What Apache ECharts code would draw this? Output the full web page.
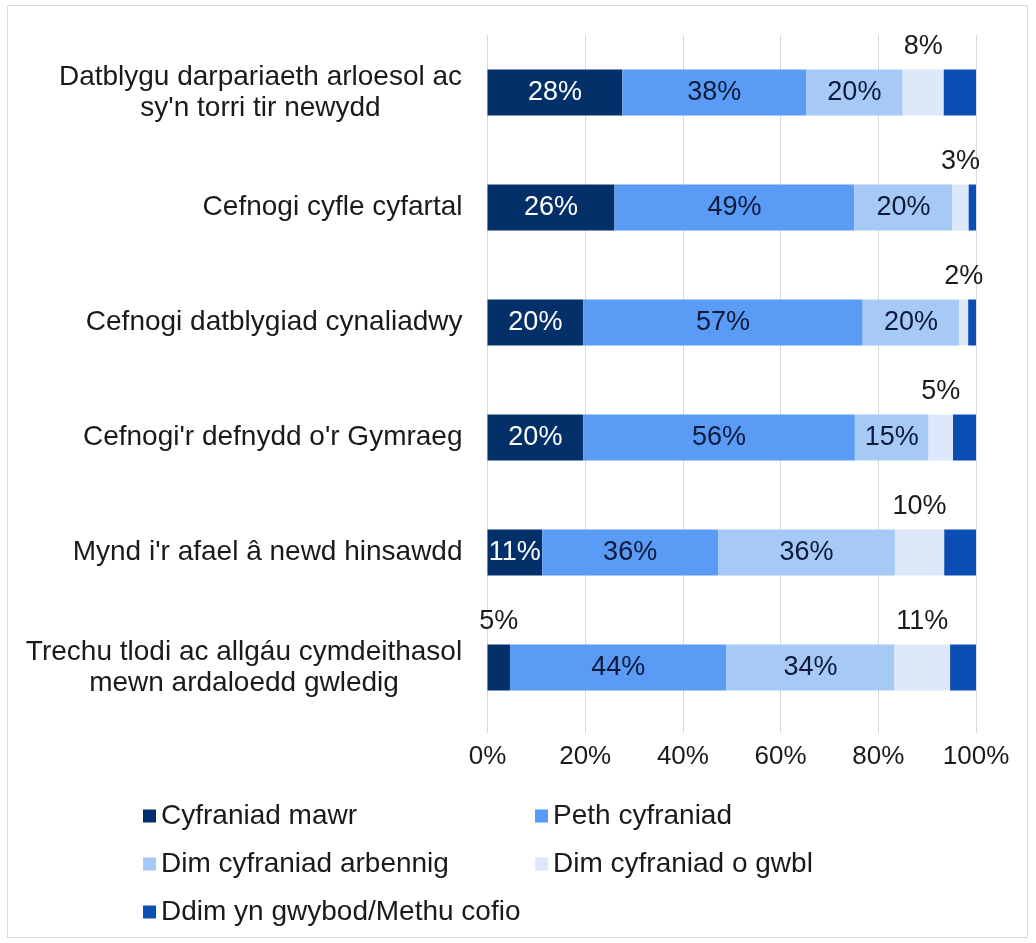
<!DOCTYPE html>
<html><head><meta charset="utf-8">
<script src="https://cdn.jsdelivr.net/npm/echarts@6/dist/echarts.min.js"></script>
<style>html,body{margin:0;padding:0;background:#fff}#c{width:1036px;height:943px}</style>
</head><body><div id="c"></div>
<script>
const categories = [
  "Datblygu darpariaeth arloesol ac\nsy'n torri tir newydd",
  "Cefnogi cyfle cyfartal",
  "Cefnogi datblygiad cynaliadwy",
  "Cefnogi'r defnydd o'r Gymraeg",
  "Mynd i'r afael â newd hinsawdd",
  "Trechu tlodi ac allgáu cymdeithasol\nmewn ardaloedd gwledig"
];
const seriesNames = ["Cyfraniad mawr", "Peth cyfraniad", "Dim cyfraniad arbennig", "Dim cyfraniad o gwbl", "Ddim yn gwybod/Methu cofio"];
const cyfraniadMawr = [27.6, 26.0, 19.6, 19.6, 11.2, 4.6];
const pethCyfraniad = [37.6, 49.1, 57.2, 55.6, 36.0, 44.3];
const dimArbennig   = [19.8, 20.1, 19.8, 15.1, 36.2, 34.4];
const dimOGwbl      = [8.4, 3.3, 1.8, 5.0, 10.1, 11.4];
const ddimGwybod    = [6.6, 1.5, 1.6, 4.7, 6.5, 5.3];
const xTickValues = [0, 20, 40, 60, 80, 100];

const FONT = '"Liberation Sans", Arial, sans-serif';
const FS_CAT = 28, FS_LBL = 27, FS_AX = 26, FS_LEG = 28;
const colors = ['#04306a', '#5a9bf6', '#a6c9f6', '#dde9fa', '#0a4db3'];

// measure widths for centering multi-line category labels
const cv = document.createElement('canvas').getContext('2d');
cv.font = FS_CAT + 'px ' + FONT;
const richStyles = {};
const labelFmt = categories.map((c, i) => {
  const lines = c.split('\n');
  if (lines.length === 1) return c;
  const w = Math.ceil(Math.max(...lines.map(l => cv.measureText(l).width)));
  richStyles['m' + i] = { width: w, align: 'center', fontSize: FS_CAT, fontFamily: FONT, color: '#1a1a1a', lineHeight: 31 };
  return lines.map(l => '{m' + i + '|' + l + '}').join('\n');
});

const fmt = p => Math.round(p.value) + '%';
const topLabel = { show: true, position: 'top', distance: 9, color: '#1a1a1a', fontSize: FS_LBL, fontFamily: FONT, formatter: fmt };

function mk(name, arr, idx, labelCfg, special) {
  return {
    name, type: 'bar', stack: 'total', barWidth: 46,
    itemStyle: { color: colors[idx] },
    label: labelCfg,
    emphasis: { disabled: true },
    data: arr.map((v, i) => (special && special[i]) ? { value: v, label: special[i] } : v)
  };
}

const chart = echarts.init(document.getElementById('c'), null, { renderer: 'canvas' });
const legendPos = [[138, 797], [530, 797], [138, 845], [530, 845], [138, 893]];
chart.setOption({
  animation: false,
  textStyle: { fontFamily: FONT },
  graphic: [{ type: 'rect', shape: { x: 7.5, y: 5.5, width: 1020, height: 932 }, style: { fill: 'none', stroke: '#d9d9d9', lineWidth: 1 }, silent: true }],
  grid: { left: 487.5, right: 60, top: 35, bottom: 218, containLabel: false },
  xAxis: {
    type: 'value', min: 0, max: 100, interval: 20,
    axisLine: { show: false },
    axisTick: { show: true, length: 8, lineStyle: { color: '#d9d9d9' } },
    splitLine: { show: true, lineStyle: { color: '#d9d9d9', width: 1 } },
    axisLabel: { formatter: v => xTickValues.includes(v) ? v + '%' : '', color: '#1a1a1a', fontSize: FS_AX, fontFamily: FONT, margin: 19 }
  },
  yAxis: {
    type: 'category', inverse: true, data: categories,
    axisLine: { show: false }, axisTick: { show: false },
    axisLabel: {
      color: '#1a1a1a', fontSize: FS_CAT, fontFamily: FONT, margin: 25, lineHeight: 31,
      formatter: (v, i) => labelFmt[i], rich: richStyles
    }
  },
  legend: legendPos.map((p, i) => ({
    data: [seriesNames[i]], left: p[0], top: p[1], icon: 'rect', itemWidth: 13, itemHeight: 13, itemGap: 5,
    textStyle: { fontSize: FS_LEG, fontFamily: FONT, color: '#1a1a1a' }, selectedMode: false
  })),
  series: [
    mk(seriesNames[0], cyfraniadMawr, 0,
      { show: true, position: 'inside', color: '#ffffff', fontSize: FS_LBL, fontFamily: FONT, formatter: fmt },
      { 5: Object.assign({}, topLabel) }),
    mk(seriesNames[1], pethCyfraniad, 1, { show: true, position: 'inside', color: '#0d1a3c', fontSize: FS_LBL, fontFamily: FONT, formatter: fmt }),
    mk(seriesNames[2], dimArbennig, 2, { show: true, position: 'inside', color: '#0d1a3c', fontSize: FS_LBL, fontFamily: FONT, formatter: fmt }),
    mk(seriesNames[3], dimOGwbl, 3, topLabel),
    mk(seriesNames[4], ddimGwybod, 4, { show: false })
  ]
});
</script></body></html>
